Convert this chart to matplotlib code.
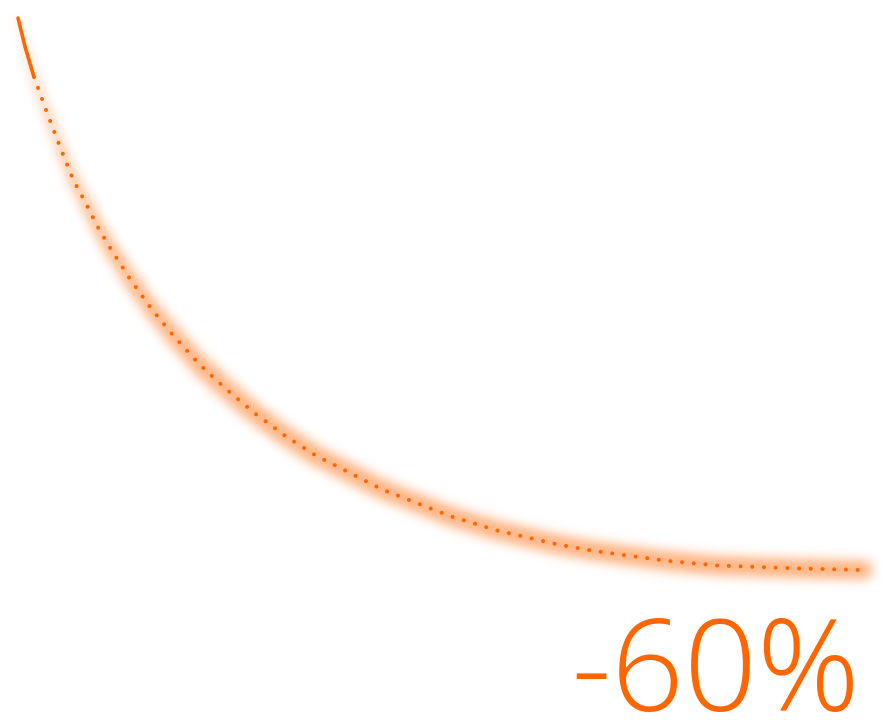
import numpy as np
import matplotlib
matplotlib.use('Agg')
import matplotlib.pyplot as plt
from matplotlib import font_manager
from matplotlib.collections import LineCollection

# decay curve (x = progress 0..100, y = level %)
curve_x = [0, 0.83, 1.89, 3.4, 4.97, 6.54, 8.01, 9.31, 10.77, 13.14, 15.7,
           18.46, 21.42, 24.58, 27.93, 31.44, 35.15, 43.0, 51.0, 56.7, 63.8,
           68.0, 76.8, 82.7, 91.4, 100]
curve_y = [100, 96.9, 93.6, 89.8, 86.0, 82.4, 79.9, 77.5, 75.2, 71.8, 68.5,
           65.4, 62.4, 59.7, 57.1, 54.7, 52.5, 48.8, 45.9, 44.3, 42.8,
           42.1, 41.0, 40.5, 40.2, 40]
label = '-60%'

orange = '#ff6600'
W, H, DPI = 8.82, 7.2, 100
XLIM = (-2.13, 102.25)
YLIM = (23.7, 101.96)


def blank_axes(fig):
    ax = fig.add_axes([0, 0, 1, 1])
    ax.set_xlim(*XLIM)
    ax.set_ylim(*YLIM)
    ax.axis('off')
    return ax


# ---- glow: draw a widening stroke offscreen, blur it, use as an image
gfig = plt.figure(figsize=(W, H), dpi=DPI)
gfig.patch.set_alpha(0)
gax = blank_axes(gfig)
pts = np.column_stack([curve_x, curve_y])
segs = np.stack([pts[:-1], pts[1:]], axis=1)
n = len(segs)
widths = [1 + min(i, 12) * 1.05 for i in range(n)]
gax.add_collection(LineCollection(segs, linewidths=widths, colors='k',
                                  capstyle='round', joinstyle='round'))
gfig.canvas.draw()
mask = np.asarray(gfig.canvas.buffer_rgba())[..., 3].astype(float) / 255
plt.close(gfig)

sigma = 5.5
r = int(sigma * 3)
k = np.exp(-0.5 * (np.arange(-r, r + 1) / sigma) ** 2)
k /= k.sum()
blur = np.apply_along_axis(lambda v: np.convolve(v, k, mode='same'), 1, mask)
blur = np.apply_along_axis(lambda v: np.convolve(v, k, mode='same'), 0, blur)

glow = np.zeros(blur.shape + (4,))
glow[..., :3] = matplotlib.colors.to_rgb(orange)
glow[..., 3] = np.clip(blur * 0.5, 0, 1)

# ---- main figure
fig = plt.figure(figsize=(W, H), dpi=DPI)
fig.patch.set_facecolor('white')
ax = blank_axes(fig)
ax.imshow(glow, extent=(XLIM[0], XLIM[1], YLIM[0], YLIM[1]),
          origin='upper', aspect='auto', interpolation='bilinear', zorder=1)

# solid head of the line
ax.plot(curve_x[:3], curve_y[:3], color=orange, linewidth=2.6,
        solid_capstyle='round', zorder=3)

# dotted tail
ax.plot(curve_x[2:], curve_y[2:], color=orange, linewidth=2.9,
        linestyle=(0, (0.01, 2.9)), dash_capstyle='round', zorder=3)


# lightest weight of a clean, non-condensed sans that is installed
def light_font():
    for fam in ['Open Sans', 'Lato', 'Roboto', 'Inter', 'Noto Sans']:
        best = None
        for f in font_manager.fontManager.ttflist:
            if f.name != fam or f.style != 'normal':
                continue
            if f.stretch not in ('normal', 400, 500):
                continue
            if 'ondensed' in f.fname or 'arrow' in f.fname:
                continue
            w = f.weight
            if isinstance(w, str):
                w = font_manager.weight_dict.get(w, 400)
            if 250 <= w < 400 and (best is None or w < best[0]):
                best = (w, f.fname)
        if best:
            return font_manager.FontProperties(fname=best[1])
    return font_manager.FontProperties(family='Open Sans')


fp = light_font()
fp.set_size(92)
fig.text(860 / 882, 1 - 711 / 720, label, color=orange, fontproperties=fp,
         ha='right', va='baseline')

fig.savefig('out.png', dpi=DPI)
